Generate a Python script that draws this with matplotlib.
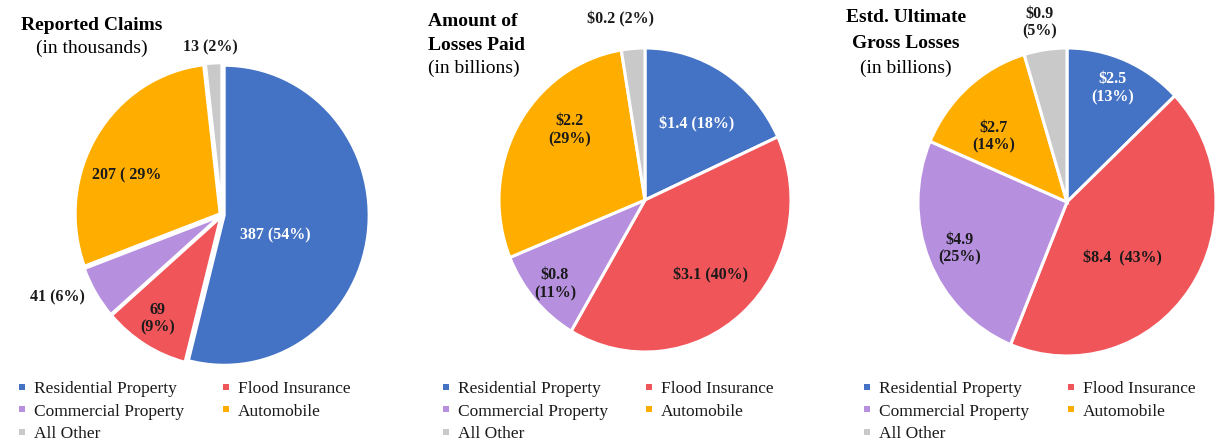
import numpy as np
import matplotlib.pyplot as plt
from matplotlib.lines import Line2D

plt.rcParams['font.family'] = ['Liberation Serif', 'DejaVu Serif']

categories = ['Residential Property', 'Flood Insurance', 'Commercial Property',
              'Automobile', 'All Other']
colors = ['#4472C4', '#F0555A', '#B68FDF', '#FFAE00', '#C9C9C9']

claims = [387, 69, 41, 207, 13]
claims_labels = ['387 (54%)', '69\n(9%)', '41 (6%)', '207 ( 29%', '13 (2%)']

paid = [1.4, 3.1, 0.8, 2.2, 0.2]
paid_labels = ['$1.4 (18%)', '$3.1 (40%)', '$0.8\n(11%)', '$2.2\n(29%)', '$0.2 (2%)']

ultimate = [2.5, 8.4, 4.9, 2.7, 0.9]
ultimate_labels = ['$2.5\n(13%)', '$8.4  (43%)', '$4.9\n(25%)', '$2.7\n(14%)', '$0.9\n(5%)']

W, H = 1218, 444
fig = plt.figure(figsize=(W / 100, H / 100), dpi=100)

# label placement: (angle offset from wedge middle in degrees, radius factor)
charts = [
    dict(vals=claims, labels=claims_labels, c=(222, 215), r=(145, 150), explode=0.015,
         place=[(-13, 0.39), (-1, 0.82), (-5, 1.26), (9.5, 0.71), (1, 1.12)]),
    dict(vals=paid, labels=paid_labels, c=(645, 200), r=(146, 152), explode=0.0,
         place=[(-3, 0.61), (0, 0.67), (1, 0.83), (-12.6, 0.69), (3.5, 1.2)]),
    dict(vals=ultimate, labels=ultimate_labels, c=(1067, 202), r=(149, 154), explode=0.0,
         place=[(0.5, 0.80), (-10, 0.52), (0.5, 0.78), (7.6, 0.65), (0.5, 1.18)]),
]

L = 1.3
for ch in charts:
    cx, cy = ch['c']
    rx, ry = ch['r']
    ax = fig.add_axes([(cx - L * rx) / W, (H - cy - L * ry) / H, 2 * L * rx / W, 2 * L * ry / H])
    wedges, _ = ax.pie(ch['vals'], colors=colors, startangle=90, counterclock=False,
                       explode=[ch['explode']] * 5,
                       wedgeprops=dict(edgecolor='white', linewidth=2.2))
    ax.set_aspect('auto')
    ax.set_xlim(-L, L)
    ax.set_ylim(-L, L)
    ax.axis('off')
    for i, (w, lab) in enumerate(zip(wedges, ch['labels'])):
        off, rad = ch['place'][i]
        ang = np.deg2rad((w.theta1 + w.theta2) / 2 + off)
        tc = 'white' if i == 0 else '#1a1a1a'
        ax.text(rad * np.cos(ang), rad * np.sin(ang), lab, ha='center', va='center',
                fontsize=11.5, fontweight='bold', color=tc, linespacing=1.15)

# titles
fig.text(92 / W, 1 - 25 / H, 'Reported Claims', ha='center', va='center',
         fontsize=14, fontweight='bold')
fig.text(92 / W, 1 - 48 / H, '(in thousands)', ha='center', va='center', fontsize=14)

fig.text(428 / W, 1 - 22 / H, 'Amount of', ha='left', va='center', fontsize=14, fontweight='bold')
fig.text(428 / W, 1 - 45 / H, 'Losses Paid', ha='left', va='center', fontsize=14, fontweight='bold')
fig.text(428 / W, 1 - 68 / H, '(in billions)', ha='left', va='center', fontsize=14)

fig.text(906 / W, 1 - 18 / H, 'Estd. Ultimate', ha='center', va='center', fontsize=14, fontweight='bold')
fig.text(906 / W, 1 - 43 / H, 'Gross Losses', ha='center', va='center', fontsize=14, fontweight='bold')
fig.text(906 / W, 1 - 68 / H, '(in billions)', ha='center', va='center', fontsize=14)

# legends, two columns per chart
handles = [Line2D([], [], marker='s', linestyle='none', markersize=4, color=c,
                  markeredgewidth=0) for c in colors]
legend_pos = [(18, 222), (442, 645), (863, 1067)]
for x1, x2 in legend_pos:
    for x, idx in ((x1, [0, 2, 4]), (x2, [1, 3])):
        leg = fig.legend([handles[i] for i in idx], [categories[i] for i in idx],
                         loc='upper left', bbox_to_anchor=(x / W, 1 - 381 / H),
                         frameon=False, fontsize=12.5, borderpad=0, borderaxespad=0,
                         handlelength=0.5, handletextpad=0.4, labelspacing=0.36)
        for t in leg.get_texts():
            t.set_color('#1a1a1a')

fig.savefig('out.png', dpi=100)
